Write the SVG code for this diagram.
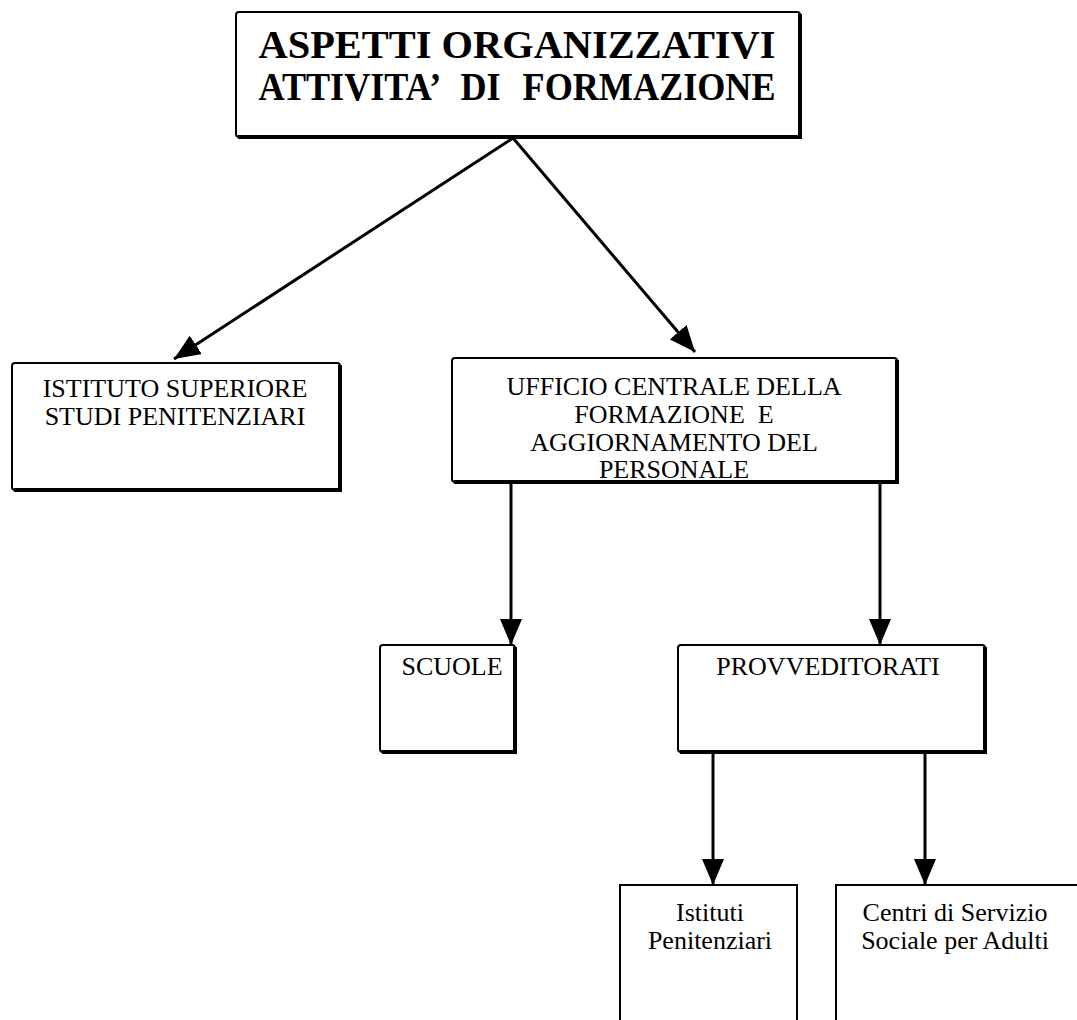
<svg xmlns="http://www.w3.org/2000/svg" width="1077" height="1020" viewBox="0 0 1077 1020">
<defs>
<marker id="ah" viewBox="0 0 26 22" refX="26" refY="11" markerWidth="26" markerHeight="22" markerUnits="userSpaceOnUse" orient="auto">
<path d="M0,0 L26,11 L0,22 Z" fill="#000"/>
</marker>
</defs>
<style>
.box{fill:#fff;stroke:#000;stroke-width:2}
.sh{fill:none;stroke:#000;stroke-width:4}
.t{font-family:"Liberation Serif",serif;font-size:26px;fill:#000;text-anchor:middle}
.tb{font-family:"Liberation Serif",serif;font-size:39px;font-weight:bold;fill:#000;text-anchor:middle}
.c{stroke:#000;stroke-width:3;fill:none;marker-end:url(#ah)}
</style>
<rect width="1077" height="1020" fill="#fff"/>
<g id="connectors">
<line class="c" x1="513" y1="138" x2="174" y2="359"/>
<line class="c" x1="513" y1="138" x2="695" y2="352"/>
<line class="c" x1="511" y1="482" x2="511" y2="645"/>
<line class="c" x1="880" y1="482" x2="880" y2="645"/>
<line class="c" x1="713" y1="752" x2="713" y2="885"/>
<line class="c" x1="925" y1="752" x2="925" y2="885"/>
</g>
<g id="n-title">
<rect class="box" x="236" y="12" width="564" height="125" rx="3"/>
<path class="sh" d="M238,137 H800 V14"/>
<text class="tb" x="517" y="58" textLength="517" lengthAdjust="spacingAndGlyphs">ASPETTI ORGANIZZATIVI</text>
<text class="tb" x="517" y="100" textLength="517" lengthAdjust="spacingAndGlyphs" word-spacing="14">ATTIVITA’ DI FORMAZIONE</text>
</g>
<g id="n-istituto-superiore">
<rect class="box" x="12" y="363" width="328" height="127" rx="3"/>
<path class="sh" d="M14,490 H340 V365"/>
<text class="t" x="175" y="397">ISTITUTO SUPERIORE</text>
<text class="t" x="175" y="425">STUDI PENITENZIARI</text>
</g>
<g id="n-ufficio">
<rect class="box" x="452" y="358" width="445" height="124" rx="3"/>
<path class="sh" d="M454,482 H897 V360"/>
<text class="t" x="674" y="395">UFFICIO CENTRALE DELLA</text>
<text class="t" x="674" y="423" xml:space="preserve">FORMAZIONE  E</text>
<text class="t" x="674" y="451">AGGIORNAMENTO DEL</text>
<text class="t" x="674" y="478">PERSONALE</text>
</g>
<g id="n-scuole">
<rect class="box" x="380" y="645" width="135" height="107" rx="3"/>
<path class="sh" d="M382,752 H515 V647"/>
<text class="t" x="452" y="675">SCUOLE</text>
</g>
<g id="n-provveditorati">
<rect class="box" x="678" y="645" width="307" height="107" rx="3"/>
<path class="sh" d="M680,752 H985 V647"/>
<text class="t" x="828" y="675">PROVVEDITORATI</text>
</g>
<g id="n-istituti">
<path class="box" d="M620,1022 V885 H797 V1022"/>
<text class="t" x="710" y="921">Istituti</text>
<text class="t" x="710" y="949">Penitenziari</text>
</g>
<g id="n-centri">
<path class="box" d="M836,1022 V885 H1080"/>
<text class="t" x="955" y="921">Centri di Servizio</text>
<text class="t" x="955" y="949">Sociale per Adulti</text>
</g>
</svg>
